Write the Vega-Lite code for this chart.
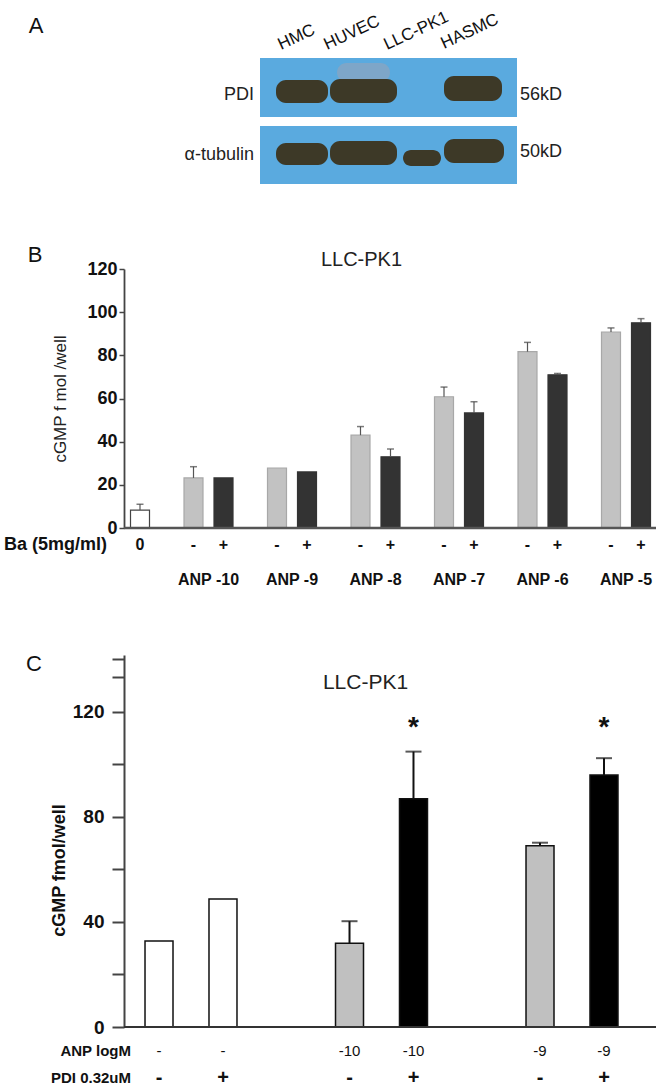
{
  "$schema": "https://vega.github.io/schema/vega-lite/v6.json",
  "padding": {"left": 3, "top": 8, "right": 0, "bottom": 0},
  "autosize": {"type": "pad"},
  "background": "white",
  "config": {"view": {"stroke": null}, "font": "Liberation Sans", "text": {"font": "Liberation Sans"}},
  "spacing": 127,
  "bounds": "flush",
  "resolve": {"scale": {"x": "independent", "y": "independent", "xOffset": "independent", "color": "independent", "stroke": "independent"}},
  "datasets": {
    "boxes": [
      {"x1": 13.6, "x2": 39.3, "y1": 4.4, "y2": 10.3},
      {"x1": 13.6, "x2": 39.3, "y1": 11.2, "y2": 17.0}
    ],
    "bands": [
      {"protein": "PDI", "lane": "HUVEC", "tone": "smear", "x1": 21.3, "x2": 26.6, "y1": 4.9, "y2": 6.8},
      {"protein": "PDI", "lane": "HMC", "tone": "band", "x1": 15.2, "x2": 20.4, "y1": 6.6, "y2": 8.9},
      {"protein": "PDI", "lane": "HUVEC", "tone": "band", "x1": 20.6, "x2": 27.3, "y1": 6.5, "y2": 8.9},
      {"protein": "PDI", "lane": "HASMC", "tone": "band", "x1": 32.0, "x2": 37.8, "y1": 6.2, "y2": 8.7},
      {"protein": "tubulin", "lane": "HMC", "tone": "band", "x1": 15.2, "x2": 20.4, "y1": 12.9, "y2": 15.1},
      {"protein": "tubulin", "lane": "HUVEC", "tone": "band", "x1": 20.6, "x2": 27.3, "y1": 12.7, "y2": 15.1},
      {"protein": "tubulin", "lane": "LLC-PK1", "tone": "band", "x1": 27.9, "x2": 31.7, "y1": 13.6, "y2": 15.2},
      {"protein": "tubulin", "lane": "HASMC", "tone": "band", "x1": 32.0, "x2": 38.0, "y1": 12.5, "y2": 14.9}
    ],
    "lanes": [
      {"lane": "HMC", "x": 15.7, "y": 3.6},
      {"lane": "HUVEC", "x": 20.3, "y": 3.6},
      {"lane": "LLC-PK1", "x": 26.3, "y": 3.6},
      {"lane": "HASMC", "x": 32.0, "y": 3.5}
    ],
    "leftLabels": [
      {"t": "PDI", "x": 13.0, "y": 8.1},
      {"t": "α-tubulin", "x": 13.0, "y": 14.1}
    ],
    "rightLabels": [
      {"t": "56kD", "x": 39.6, "y": 8.1},
      {"t": "50kD", "x": 39.6, "y": 13.8}
    ],
    "B": [
      {"anp": "0", "ba": "+", "kind": "white", "label": "0", "v": 8.3, "err": 11},
      {"anp": "-10", "ba": "-", "kind": "grey", "label": "-", "v": 23.2, "err": 28.4},
      {"anp": "-10", "ba": "+", "kind": "dark", "label": "+", "v": 23.2, "err": null},
      {"anp": "-9", "ba": "-", "kind": "grey", "label": "-", "v": 27.8, "err": null},
      {"anp": "-9", "ba": "+", "kind": "dark", "label": "+", "v": 26.0, "err": null},
      {"anp": "-8", "ba": "-", "kind": "grey", "label": "-", "v": 43.0, "err": 47.0},
      {"anp": "-8", "ba": "+", "kind": "dark", "label": "+", "v": 33.0, "err": 36.6},
      {"anp": "-7", "ba": "-", "kind": "grey", "label": "-", "v": 60.8, "err": 65.3},
      {"anp": "-7", "ba": "+", "kind": "dark", "label": "+", "v": 53.3, "err": 58.5},
      {"anp": "-6", "ba": "-", "kind": "grey", "label": "-", "v": 81.7, "err": 86.0},
      {"anp": "-6", "ba": "+", "kind": "dark", "label": "+", "v": 71.0, "err": 71.6},
      {"anp": "-5", "ba": "-", "kind": "grey", "label": "-", "v": 90.8, "err": 92.7},
      {"anp": "-5", "ba": "+", "kind": "dark", "label": "+", "v": 95.1, "err": 97.0}
    ],
    "Bgroups": [
      {"anp": "-10", "t": "ANP -10"},
      {"anp": "-9", "t": "ANP -9"},
      {"anp": "-8", "t": "ANP -8"},
      {"anp": "-7", "t": "ANP -7"},
      {"anp": "-6", "t": "ANP -6"},
      {"anp": "-5", "t": "ANP -5"}
    ],
    "C": [
      {"g": "g1", "pdi": "-", "anp": "-", "kind": "white", "v": 32.8, "err": null, "star": null},
      {"g": "g1", "pdi": "+", "anp": "-", "kind": "white", "v": 48.8, "err": null, "star": null},
      {"g": "g2", "pdi": "-", "anp": "-10", "kind": "grey", "v": 31.9, "err": 40.3, "star": null},
      {"g": "g2", "pdi": "+", "anp": "-10", "kind": "black", "v": 86.9, "err": 104.9, "star": "*"},
      {"g": "g3", "pdi": "-", "anp": "-9", "kind": "grey", "v": 69.0, "err": 70.2, "star": null},
      {"g": "g3", "pdi": "+", "anp": "-9", "kind": "black", "v": 96.0, "err": 102.4, "star": "*"}
    ]
  },
  "vconcat": [
    {
      "width": 532,
      "height": 128,
      "layer": [
        {
          "data": {"name": "boxes"},
          "mark": {"type": "rect", "color": "#5aaadf"},
          "encoding": {
            "x": {"field": "x1", "type": "quantitative", "scale": {"domain": [0, 53.2], "nice": false, "zero": false}, "axis": null},
            "x2": {"field": "x2"},
            "y": {"field": "y1", "type": "quantitative", "scale": {"domain": [0, 12.8], "reverse": true, "nice": false, "zero": false}, "axis": null},
            "y2": {"field": "y2"}
          }
        },
        {
          "data": {"name": "bands"},
          "mark": {"type": "rect", "cornerRadius": 10},
          "encoding": {
            "x": {"field": "x1", "type": "quantitative"},
            "x2": {"field": "x2"},
            "y": {"field": "y1", "type": "quantitative"},
            "y2": {"field": "y2"},
            "color": {"field": "tone", "type": "nominal", "scale": {"domain": ["band", "smear"], "range": ["#3d3927", "#7ea6c8"]}, "legend": null}
          }
        },
        {
          "data": {"name": "lanes"},
          "mark": {"type": "text", "angle": -25, "align": "left", "baseline": "alphabetic", "fontSize": 17, "color": "#111"},
          "encoding": {
            "x": {"field": "x", "type": "quantitative"},
            "y": {"field": "y", "type": "quantitative"},
            "text": {"field": "lane"}
          }
        },
        {
          "data": {"name": "leftLabels"},
          "mark": {"type": "text", "align": "right", "baseline": "middle", "fontSize": 18, "color": "#222"},
          "encoding": {
            "x": {"field": "x", "type": "quantitative"},
            "y": {"field": "y", "type": "quantitative"},
            "text": {"field": "t"}
          }
        },
        {
          "data": {"name": "rightLabels"},
          "mark": {"type": "text", "align": "left", "baseline": "middle", "fontSize": 18, "color": "#222"},
          "encoding": {
            "x": {"field": "x", "type": "quantitative"},
            "y": {"field": "y", "type": "quantitative"},
            "text": {"field": "t"}
          }
        },
        {
          "data": {"values": [{"t": "A"}]},
          "mark": {"type": "text", "align": "center", "baseline": "middle", "fontSize": 22, "color": "#111"},
          "encoding": {
            "x": {"datum": -8.8},
            "y": {"datum": 1.2},
            "text": {"field": "t"}
          }
        }
      ]
    },
    {
      "width": 532,
      "height": 259,
      "data": {"name": "B"},
      "encoding": {
        "x": {"field": "anp", "type": "nominal", "scale": {"domain": ["0", "-10", "-9", "-8", "-7", "-6", "-5"], "range": [-40.75, 543.75], "paddingInner": 0, "paddingOuter": 0}, "axis": null},
        "xOffset": {"field": "ba", "type": "nominal", "scale": {"domain": ["-", "+"], "paddingInner": 0.367, "paddingOuter": 0.575}}
      },
      "layer": [
        {
          "mark": {"type": "bar", "strokeWidth": 1.2},
          "encoding": {
            "y": {
              "field": "v", "type": "quantitative",
              "scale": {"domain": [0, 120], "nice": false},
              "axis": {
                "values": [0, 20, 40, 60, 80, 100, 120], "grid": false,
                "title": "cGMP f mol /well", "titleFont": "Liberation Sans", "titleFontSize": 17, "titleFontWeight": "normal", "titleColor": "#222", "titlePadding": 17,
                "labelFont": "Liberation Sans", "labelFontSize": 18, "labelFontWeight": "bold", "labelColor": "#111", "labelPadding": 2,
                "domainColor": "#444", "domainWidth": 1.8, "tickColor": "#444", "tickSize": 5, "tickWidth": 1.5
              }
            },
            "color": {"field": "kind", "type": "nominal", "scale": {"domain": ["white", "grey", "dark"], "range": ["#ffffff", "#c2c2c2", "#333333"]}, "legend": null},
            "stroke": {"field": "kind", "type": "nominal", "scale": {"domain": ["white", "grey", "dark"], "range": ["#444444", "#a8a8a8", "#333333"]}, "legend": null}
          }
        },
        {
          "transform": [{"filter": "datum.err != null"}],
          "mark": {"type": "rule", "strokeWidth": 1.2, "color": "#555"},
          "encoding": {
            "y": {"field": "v", "type": "quantitative"},
            "y2": {"field": "err"}
          }
        },
        {
          "transform": [{"filter": "datum.err != null"}],
          "mark": {"type": "tick", "size": 7, "thickness": 1.5, "color": "#444"},
          "encoding": {
            "y": {"field": "err", "type": "quantitative"}
          }
        },
        {
          "mark": {"type": "text", "baseline": "middle", "align": "center", "fontSize": 16, "fontWeight": "bold", "color": "#111"},
          "encoding": {
            "y": {"datum": -7.9},
            "text": {"field": "label"}
          }
        },
        {
          "data": {"name": "Bgroups"},
          "mark": {"type": "text", "baseline": "middle", "align": "center", "fontSize": 16, "fontWeight": "bold", "color": "#111"},
          "encoding": {
            "x": {"field": "anp", "type": "nominal"},
            "xOffset": null,
            "y": {"datum": -24.1},
            "text": {"field": "t"}
          }
        },
        {
          "data": {"values": [{"t": "Ba (5mg/ml)"}]},
          "mark": {"type": "text", "baseline": "middle", "align": "right", "dx": -18, "fontSize": 18, "fontWeight": "bold", "color": "#111"},
          "encoding": {
            "x": {"datum": "0"},
            "xOffset": null,
            "y": {"datum": -7.9},
            "text": {"field": "t"}
          }
        },
        {
          "data": {"values": [{"t": "B"}]},
          "mark": {"type": "text", "baseline": "middle", "align": "center", "dx": -90, "fontSize": 22, "color": "#111"},
          "encoding": {
            "x": {"datum": "0"},
            "xOffset": null,
            "y": {"datum": 126.5},
            "text": {"field": "t"}
          }
        },
        {
          "data": {"values": [{"t": "LLC-PK1"}]},
          "mark": {"type": "text", "baseline": "middle", "align": "center", "dx": -14, "fontSize": 20, "color": "#222"},
          "encoding": {
            "x": {"datum": "-8"},
            "xOffset": null,
            "y": {"datum": 124.2},
            "text": {"field": "t"}
          }
        },
        {
          "data": {"values": [{"base": 0}]},
          "mark": {"type": "rule", "color": "#555", "strokeWidth": 2.5},
          "encoding": {
            "x": null,
            "xOffset": null,
            "y": {"field": "base", "type": "quantitative"}
          }
        }
      ]
    },
    {
      "width": 532,
      "height": 372,
      "data": {"name": "C"},
      "encoding": {
        "x": {"field": "g", "type": "nominal", "scale": {"domain": ["g1", "g2", "g3"], "range": [-28.25, 543.25], "paddingInner": 0, "paddingOuter": 0}, "axis": null},
        "xOffset": {"field": "pdi", "type": "nominal", "scale": {"domain": ["-", "+"], "paddingInner": 0.5625, "paddingOuter": 0.77}}
      },
      "layer": [
        {
          "mark": {"type": "bar", "strokeWidth": 1.5},
          "encoding": {
            "y": {
              "field": "v", "type": "quantitative",
              "scale": {"domain": [0, 141.7], "nice": false},
              "axis": {
                "values": [0, 20, 40, 60, 80, 100, 120, 133.3, 140], "grid": false,
                "labelExpr": "(datum.value == 0 || datum.value == 40 || datum.value == 80 || datum.value == 120) ? datum.label : ''",
                "title": "cGMP fmol/well", "titleFont": "Liberation Sans", "titleFontSize": 18, "titleFontWeight": "bold", "titleColor": "#111", "titlePadding": 4, "titleY": 215,
                "labelFont": "Liberation Sans", "labelFontSize": 19, "labelFontWeight": "bold", "labelColor": "#111", "labelPadding": 8,
                "domainColor": "#444", "domainWidth": 2, "tickColor": "#444", "tickSize": 12, "tickWidth": 2
              }
            },
            "color": {"field": "kind", "type": "nominal", "scale": {"domain": ["white", "grey", "black"], "range": ["#ffffff", "#c0c0c0", "#000000"]}, "legend": null},
            "stroke": {"value": "#111"}
          }
        },
        {
          "transform": [{"filter": "datum.err != null"}],
          "mark": {"type": "rule", "strokeWidth": 2, "color": "#111"},
          "encoding": {
            "y": {"field": "v", "type": "quantitative"},
            "y2": {"field": "err"}
          }
        },
        {
          "transform": [{"filter": "datum.err != null"}],
          "mark": {"type": "tick", "size": 16, "thickness": 2, "color": "#111"},
          "encoding": {
            "y": {"field": "err", "type": "quantitative"}
          }
        },
        {
          "transform": [{"filter": "datum.star != null"}],
          "mark": {"type": "text", "baseline": "alphabetic", "align": "center", "fontSize": 28, "fontWeight": "bold", "color": "#111"},
          "encoding": {
            "y": {"datum": 110.7},
            "text": {"field": "star"}
          }
        },
        {
          "mark": {"type": "text", "baseline": "middle", "align": "center", "fontSize": 15, "color": "#111"},
          "encoding": {
            "y": {"datum": -9.14},
            "text": {"field": "anp"}
          }
        },
        {
          "mark": {"type": "text", "baseline": "middle", "align": "center", "fontSize": 20, "fontWeight": "bold", "color": "#111"},
          "encoding": {
            "y": {"datum": -19.4},
            "text": {"field": "pdi"}
          }
        },
        {
          "data": {"values": [{"t": "ANP logM", "row": -9.14}, {"t": "PDI 0.32uM", "row": -19.4}]},
          "mark": {"type": "text", "baseline": "middle", "align": "right", "dx": -60, "fontSize": 15, "fontWeight": "bold", "color": "#111"},
          "encoding": {
            "x": {"datum": "g1"},
            "xOffset": null,
            "y": {"field": "row", "type": "quantitative"},
            "text": {"field": "t"}
          }
        },
        {
          "data": {"values": [{"t": "C"}]},
          "mark": {"type": "text", "baseline": "middle", "align": "center", "dx": -157, "fontSize": 22, "color": "#111"},
          "encoding": {
            "x": {"datum": "g1"},
            "xOffset": null,
            "y": {"datum": 138.3},
            "text": {"field": "t"}
          }
        },
        {
          "data": {"values": [{"t": "LLC-PK1"}]},
          "mark": {"type": "text", "baseline": "middle", "align": "center", "dx": -16, "fontSize": 21, "color": "#222"},
          "encoding": {
            "x": {"datum": "g2"},
            "xOffset": null,
            "y": {"datum": 131},
            "text": {"field": "t"}
          }
        },
        {
          "data": {"values": [{"base": 0}]},
          "mark": {"type": "rule", "color": "#333", "strokeWidth": 2},
          "encoding": {
            "x": null,
            "xOffset": null,
            "y": {"field": "base", "type": "quantitative"}
          }
        }
      ]
    }
  ]
}
